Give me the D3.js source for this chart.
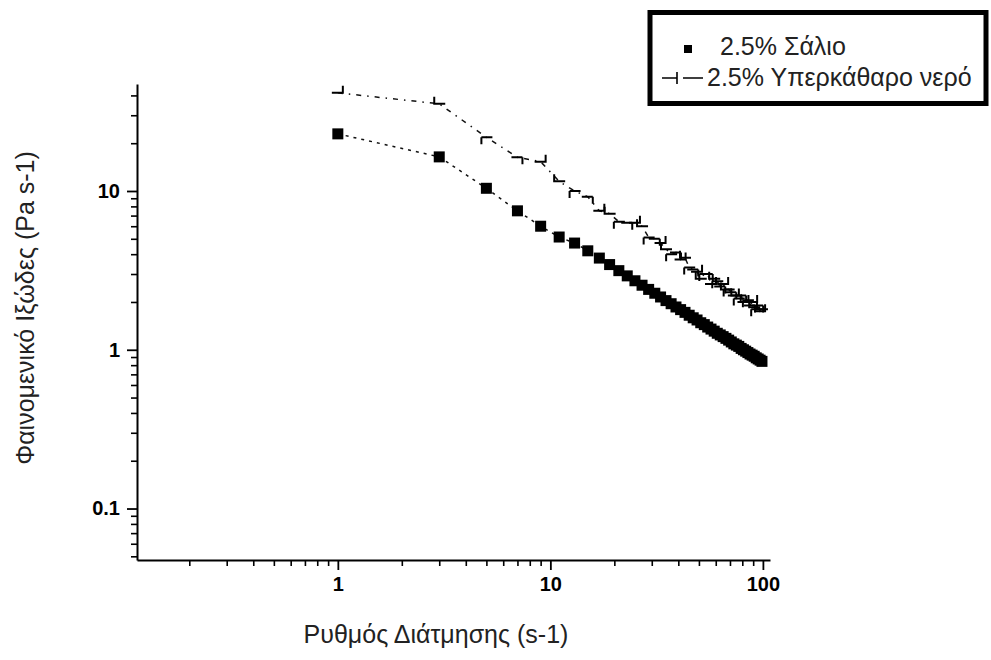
<!DOCTYPE html>
<html>
<head>
<meta charset="utf-8">
<script src="https://cdn.jsdelivr.net/npm/d3@7"></script>
<style>
	body { margin: 0; background: #fff; }
	svg { display: block; }
	.tick text { font-family: "Liberation Sans", Arial, sans-serif; font-weight: bold; font-size: 20px; fill: #000; }
	.title { font-family: "Liberation Sans", Arial, sans-serif; font-size: 25px; fill: #222; }
</style>
</head>
<body>
<svg id="plot" width="991" height="660"></svg>
<script>

// shear rate (s-1), same for both samples
const SHEAR_RATE = [1, 3, 5, 7, 9, 11, 13, 15, 17, 19, 21, 23, 25, 27, 29, 31, 33, 35, 37, 39,
	41, 43, 45, 47, 49, 51, 53, 55, 57, 59, 61, 63, 65, 67, 69, 71, 73, 75, 77, 79,
	81, 83, 85, 87, 89, 91, 93, 95, 97, 99];

// 2.5% Σάλιο
const VISC_SALIO = [22.9, 16.4, 10.4, 7.5, 6.0, 5.13, 4.7, 4.2, 3.78, 3.44, 3.15, 2.92, 2.72, 2.55, 2.40, 2.27, 2.15, 2.04, 1.95, 1.86,
	1.79, 1.72, 1.65, 1.59, 1.54, 1.48, 1.44, 1.39, 1.35, 1.31, 1.27, 1.24, 1.21, 1.18, 1.15, 1.12, 1.09, 1.07, 1.05, 1.02,
	1.00, 0.98, 0.96, 0.94, 0.925, 0.91, 0.89, 0.875, 0.86, 0.845];

// 2.5% Υπερκάθαρο νερό
const VISC_WATER = [41.5, 35.4, 21.8, 16.3, 15.3, 11.5, 10.0, 9.2, 7.5, 7.2, 6.4, 6.3, 6.3, 6.0, 5.1, 5.0, 4.7, 4.3, 4.0, 4.1,
	3.7, 3.8, 3.3, 3.2, 3.1, 2.8, 3.0, 3.0, 2.6, 2.8, 2.7, 2.5, 2.6, 2.4, 2.4, 2.3, 2.2, 2.2, 2.1, 2.2,
	2.0, 2.0, 2.05, 1.9, 2.0, 1.85, 1.8, 1.9, 1.75, 1.8];

const SERIES_NAMES = ['2.5% Σάλιο', '2.5% Υπερκάθαρο νερό'];

const X_MAJOR = [1, 10, 100];
const X_LABELS = ['1', '10', '100'];
const X_MINOR = [0.2, 0.3, 0.4, 0.5, 0.6, 0.7, 0.8, 0.9, 2, 3, 4, 5, 6, 7, 8, 9, 20, 30, 40, 50, 60, 70, 80, 90];
const Y_MAJOR = [0.1, 1, 10];
const Y_LABELS = ['0.1', '1', '10'];
const Y_MINOR = [0.05, 0.06, 0.07, 0.08, 0.09, 0.2, 0.3, 0.4, 0.5, 0.6, 0.7, 0.8, 0.9, 2, 3, 4, 5, 6, 7, 8, 9, 20, 30, 40];

const X_TITLE = 'Ρυθμός Διάτμησης (s-1)';
const Y_TITLE = 'Φαινομενικό Ιξώδες (Pa s-1)';

class LogPlot {

	constructor(svg_element_id) {
		this.svg = d3.select('#' + svg_element_id);

		const x = d3.scaleLog()
			.domain([0.1135, 108])
			.range([137, 770]);

		const y = d3.scaleLog()
			.domain([0.0474, 47.2])
			.range([560, 84]);

		// minor ticks first, major ticks + axis line on top
		this.svg.append('g')
			.attr('transform', 'translate(0,560)')
			.call(d3.axisBottom(x).tickValues(X_MINOR).tickFormat('').tickSize(6).tickSizeOuter(0))
			.call(g => g.select('.domain').remove())
			.selectAll('line').attr('stroke-width', 1.6);

		this.svg.append('g')
			.attr('transform', 'translate(137,0)')
			.call(d3.axisLeft(y).tickValues(Y_MINOR.filter(v => v >= y.domain()[0])).tickFormat('').tickSize(6).tickSizeOuter(0))
			.call(g => g.select('.domain').remove())
			.selectAll('line').attr('stroke-width', 1.6);

		const x_axis = this.svg.append('g')
			.attr('transform', 'translate(0,560)')
			.call(d3.axisBottom(x).tickValues(X_MAJOR).tickFormat((d, i) => X_LABELS[i]).tickSize(10).tickPadding(7).tickSizeOuter(0));
		x_axis.select('.domain').attr('stroke-width', 2);
		x_axis.selectAll('line').attr('stroke-width', 1.8);

		const y_axis = this.svg.append('g')
			.attr('transform', 'translate(137,0)')
			.call(d3.axisLeft(y).tickValues(Y_MAJOR).tickFormat((d, i) => Y_LABELS[i]).tickSize(10).tickPadding(7).tickSizeOuter(0));
		y_axis.select('.domain').attr('stroke-width', 2);
		y_axis.selectAll('line').attr('stroke-width', 1.8);

		// axis titles
		this.svg.append('text')
			.classed('title', true)
			.attr('x', 436)
			.attr('y', 643)
			.attr('text-anchor', 'middle')
			.text(X_TITLE);

		this.svg.append('text')
			.classed('title', true)
			.attr('transform', 'translate(34,308) rotate(-90)')
			.attr('text-anchor', 'middle')
			.text(Y_TITLE);

		const salio = SHEAR_RATE.map((r, i) => ({x: r, y: VISC_SALIO[i]}));
		const water = SHEAR_RATE.map((r, i) => ({x: r, y: VISC_WATER[i]}));

		const line = d3.line()
			.x(d => x(d.x))
			.y(d => y(d.y));

		this.svg.append('path')
			.datum(water)
			.attr('d', line)
			.attr('fill', 'none')
			.attr('stroke', '#111')
			.attr('stroke-width', 1.5)
			.attr('stroke-dasharray', '5,6,1.5,6');

		this.svg.append('path')
			.datum(salio)
			.attr('d', line)
			.attr('fill', 'none')
			.attr('stroke', '#111')
			.attr('stroke-width', 1.5)
			.attr('stroke-dasharray', '3,5');

		// half-tick markers, orientation flips along the curve like the jpeg
		const tick_shapes = ['M-6,0H5M5,-7V1', 'M-5,0H6M-5,-7V1', 'M-5,0H6M-5,0V7', 'M-6,0H5M5,0V7'];
		this.svg.append('g')
			.selectAll('path')
			.data(water)
			.enter()
			.append('path')
				.attr('transform', d => `translate(${x(d.x)},${y(d.y)})`)
				.attr('d', (d, i) => tick_shapes[i % tick_shapes.length])
				.attr('fill', 'none')
				.attr('stroke', '#000')
				.attr('stroke-width', 2);

		this.svg.append('g')
			.selectAll('rect')
			.data(salio)
			.enter()
			.append('rect')
				.attr('x', d => x(d.x) - 5.5)
				.attr('y', d => y(d.y) - 5.5)
				.attr('width', 11)
				.attr('height', 11)
				.attr('fill', '#000');

		// legend box
		const legend = this.svg.append('g');
		legend.append('rect')
			.attr('x', 650)
			.attr('y', 12.5)
			.attr('width', 336)
			.attr('height', 91)
			.attr('fill', '#fff')
			.attr('stroke', '#000')
			.attr('stroke-width', 5);

		legend.append('rect')
			.attr('x', 684)
			.attr('y', 45)
			.attr('width', 8)
			.attr('height', 8)
			.attr('fill', '#000');

		legend.append('path')
			.attr('d', 'M662,78H677M677,72V84M683,78H703')
			.attr('fill', 'none')
			.attr('stroke', '#000')
			.attr('stroke-width', 1.6);

		legend.selectAll('text')
			.data(SERIES_NAMES)
			.enter()
			.append('text')
				.classed('title', true)
				.attr('x', (d, i) => i == 0 ? 720 : 707)
				.attr('y', (d, i) => i == 0 ? 55 : 86)
				.text(d => d);
	}
}

function whenDocumentLoaded(action) {
	if (document.readyState === "loading") {
		document.addEventListener("DOMContentLoaded", action);
	} else {
		action();
	}
}

whenDocumentLoaded(() => {
	plot_object = new LogPlot('plot');
});
</script>
</body>
</html>
